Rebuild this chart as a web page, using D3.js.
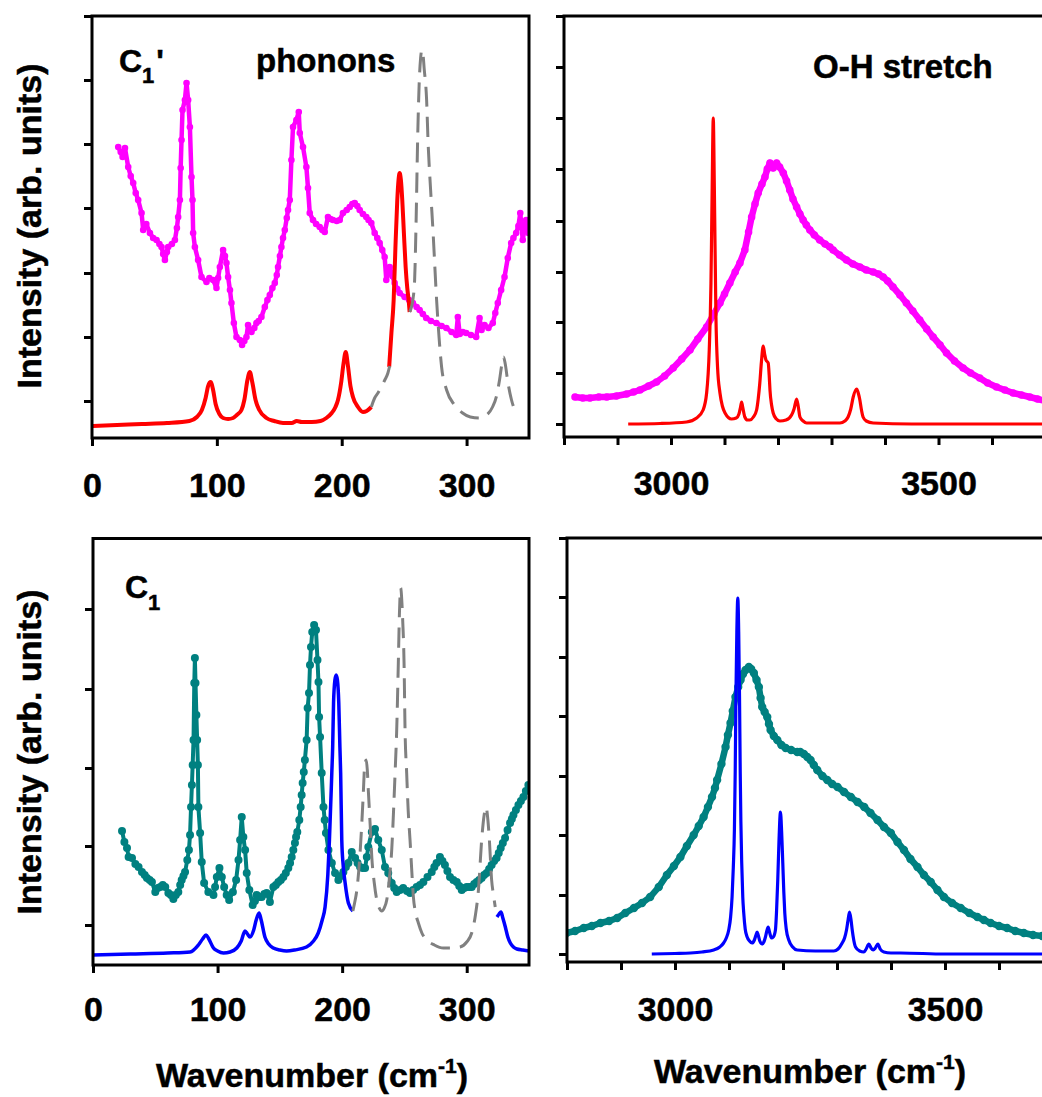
<!DOCTYPE html>
<html>
<head>
<meta charset="utf-8">
<script src="https://cdn.jsdelivr.net/npm/d3@7"></script>
<style>
  body { margin: 0; background: #fff; }
  text { font-family: "Liberation Sans", Arial, Helvetica, sans-serif; font-weight: bold; stroke: #000; stroke-width: 0.5px; }
</style>
</head>
<body>
<div id="chart"></div>
<script>
// ---- data: [wavenumber (cm-1), intensity (arb. units)] ----

// C1' phonons, measured (magenta)
var c1pPhononExp = [[21,291],[23,286],[24.5,281],[26.4,290],[29,271],[31,262],[33,255],[35,245],[37,238],[39.7,225],[41,208],[43.5,214],[46.4,205],[49,200],[51.7,198],[54,194],[55.7,191],[57,184],[58.4,178],[60,186],[61,191],[64,194],[66.4,198],[68,210],[69,221],[70.4,238],[71,270],[71.7,298],[72.5,328],[74.4,338],[75.7,355],[77,338],[78.4,311],[79.7,261],[80.5,238],[81,205],[82.4,191],[85,178],[87.7,161],[91.7,156],[94,160],[97,158],[99.7,150],[101,160],[102.4,171],[105,188],[106.5,182],[107.7,175],[109,161],[110.5,148],[111.7,135],[113.6,115],[115.7,101],[118.4,98],[120.2,93],[122,97],[123.7,101],[125,113],[126.5,108],[127.7,106],[130,110],[131.7,115],[133.5,117],[135.7,121],[138.4,131],[140.5,138],[142.4,143],[144.5,150],[146.4,155],[148,163],[149,171],[150.5,182],[151.7,191],[153,200],[154.4,208],[156,220],[157,228],[158.4,238],[159.7,278],[161,311],[163.7,318],[165.6,326],[166.4,305],[169,291],[171.7,271],[173,250],[174.4,225],[177,218],[179.5,214],[182.4,211],[184.5,208],[186.4,206],[189,221],[191,219],[193,218],[196,217],[198.4,218],[201,225],[204,228],[206.4,231],[208.5,234],[210.4,235],[212.5,232],[214.4,228],[217,224],[219.7,221],[221.5,218],[223.7,215],[226.4,205],[228.5,200],[230.4,195],[232.5,188],[234.4,181],[235.7,158],[237,165],[238.4,171],[240.5,162],[242.4,155],[244.5,149],[246.4,145],[250.4,141],[254,138],[257,135],[260,131],[262.4,128],[265,124],[267.7,120],[271.5,117],[275.8,115],[280,112],[283.8,110],[288,106],[291.7,103],[293,121],[294.5,104],[297,106],[299.7,105],[303.5,103],[307.7,101],[310.4,120],[312,108],[314.4,113],[317.5,110],[321,115],[323,125],[325,135],[327.7,148],[330.4,161],[333,180],[335.7,195],[337.5,200],[339.7,205],[341.5,212],[343,225],[345,198],[346.5,210],[347.7,218],[349.6,205]];

// C1' phonons, calculated (red) and the dashed grey parts
var c1pPhononCalcLow = [[0,12],[20,13],[40,14],[60,15],[78,17],[84,21],[88,28],[91,40],[93,52],[95,56],[97,48],[99,34],[102,24],[105,20],[109,19],[113,20],[116,23],[119.7,28],[122,38],[124.5,58],[126.4,66],[128.5,55],[131,38],[134,28],[139.7,20],[146,17],[153,15],[160,15],[164,17],[168,16],[176,16],[183,17],[187.7,20],[192,25],[195,31],[197,38],[199.5,55],[201.5,75],[203.2,86],[205,72],[207,52],[209,41],[213,31],[217,26],[220,27],[223.7,31]];
var c1pPhononCalcHigh = [[238,71],[239.8,105],[241.6,138],[243,190],[244.5,238],[245.5,258],[246.4,265],[247.4,258],[248.5,238],[249.8,205],[251.2,171],[252.5,150],[253.6,138],[254.4,126]];
var c1pPhononGapA = [[223.7,31],[226.4,40],[229,45],[231.7,51],[234.5,58],[237,65],[238.4,72]];
var c1pPhononGapB = [[254.4,126],[257.2,140],[258.4,158],[259.6,218],[260.8,298],[262,353],[263.2,380],[264.2,388],[265,385],[266,370],[268,338],[269.2,295],[271.2,248],[273.2,205],[276,138],[278,100],[280,71],[284,48],[290.4,33],[296.8,25],[303,21],[310.4,20],[316,23],[320.8,31],[324,42],[326.4,58],[328.3,74],[329.6,81],[331,74],[332.8,58],[336,38],[339.2,26]];

// C1' O-H stretch
var c1pStretchExp = [[2820.6,40],[2835,39],[2848.6,39],[2865,40],[2880,40],[2898,41],[2917,43],[2930,45],[2942,47],[2958,51],[2973,55],[2988,61],[3004,69],[3020,78],[3035.4,87],[3050,98],[3066.6,110],[3080,123],[3091.5,134],[3100,143],[3110,154],[3120,165],[3128.8,174],[3138,187],[3145,205],[3150.7,220],[3157,233],[3163,244],[3170,253],[3175.6,260],[3180,268],[3185,274],[3191,269],[3197.4,274],[3203,270],[3210,264],[3216,256],[3222,247],[3228,238],[3234.8,230],[3241,223],[3247,217],[3253,212],[3259.6,207],[3268,202],[3278,197],[3288,193],[3297,190],[3303,187],[3315,182],[3328,177],[3340,173],[3353,170],[3365,167],[3378,165],[3388,163],[3396.6,160],[3405,156],[3415,150],[3428,142],[3440,134],[3452,126],[3465,117],[3478,108],[3490,100],[3503,92],[3515,84],[3530,76],[3546,69],[3560,64],[3577,59],[3592,54],[3608.5,50],[3624,47],[3639.5,44],[3655,42],[3670.7,40],[3685,38],[3700,36]];
var c1pStretchCalc = [[2920,13],[2980,13.5],[3029,15],[3048,19],[3060,27],[3066.6,44],[3071.5,87],[3074.7,154],[3077,250],[3079,319],[3081,250],[3084,120],[3087,70],[3091.5,44],[3096,31],[3101,24],[3113,18],[3122,19],[3127,23],[3130,30],[3132,35],[3134,30],[3138,20],[3143,17],[3147.5,17],[3154,20],[3160,27],[3163,38],[3166,54],[3169,75],[3172.4,91],[3175,83],[3177.5,77],[3181.7,74],[3183.5,62],[3185,47],[3188,32],[3191,24],[3197,18],[3203.6,16],[3215,17],[3225.4,22],[3230,28],[3234.8,38],[3238,30],[3241,20],[3247,16],[3253.5,14],[3290,14],[3315.7,14],[3325,16],[3331,20],[3336,28],[3340.6,40],[3347,48],[3350,44],[3353,37],[3356,27],[3359,20],[3365,16],[3378,14],[3450,13],[3600,13],[3800,13]];

// C1 phonons
var c1PhononExp = [[23.3,134],[25.2,123],[27.3,117],[28.6,108],[31.3,107],[34,101],[36.6,98],[39.3,93],[41.5,90],[43.3,87],[45.5,85],[47.3,83],[50,73],[52,77],[54,78],[56,80],[58,78],[60.5,72],[62.5,70],[64.5,66],[66.5,70],[68.5,73],[70,80],[71.2,85],[72.6,89],[73.9,93],[75.7,105],[77,115],[77.9,130],[78.7,158],[79.4,180],[80,200],[80.7,225],[81.3,282],[81.8,307],[82.3,282],[83,250],[83.6,225],[84.2,200],[84.6,158],[86,132],[87.3,103],[89.2,82],[92.6,73],[96.7,70],[98,78],[99.4,88],[101.5,97],[103.4,88],[105.3,78],[107.3,70],[109.3,65],[112.3,73],[114.9,85],[116.8,105],[118.1,125],[119.4,148],[120.7,128],[122.1,115],[123.4,92],[125.5,75],[128.2,60],[130,64],[131.4,70],[133.5,68],[135.4,68],[137.5,71],[139.4,72],[142,63],[144.8,78],[146.8,80],[148.8,83],[150.8,85],[152.8,88],[154.8,92],[156.8,97],[158.2,102],[159.5,108],[160.8,115],[162.1,122],[163,128],[164,133],[165.6,145],[166.7,158],[167.5,170],[168.3,182],[169.2,193],[170.1,205],[171.5,225],[172.3,257],[173.4,272],[174.2,300],[175,318],[176,333],[177.5,340],[179,335],[180.2,305],[181,283],[181.5,248],[182.3,228],[183.6,192],[185,158],[186,145],[187,132],[189,115],[191.7,102],[194.3,92],[197,85],[199,89],[201,93],[203,98],[205,102],[207.7,113],[210.4,107],[212.4,102],[214.4,98],[216.4,97],[218.4,97],[219.8,108],[221,118],[223.8,133],[226.4,136],[229,125],[231.8,115],[234.4,98],[237,92],[239.8,82],[241.8,77],[243.8,73],[246.5,75],[249,77],[252,74],[254.5,72],[257,75],[259.8,78],[262.5,80],[265.2,83],[268.5,88],[271.9,93],[274,98],[275.8,102],[278.5,108],[280.5,104],[282.5,100],[284.5,94],[286.6,88],[289.3,85],[292,83],[294,79],[296,75],[298,77],[300,78],[302,78],[304,78],[306,81],[308,83],[310,85],[312,87],[314,90],[316,92],[318,96],[320,100],[322,104],[324,107],[325.7,112],[327.3,117],[329,122],[330.8,127],[332.8,135],[334.8,142],[336.2,146],[337.5,150],[339.5,155],[341.5,160],[343.5,164],[345.5,168],[347.5,174],[349.5,180]];
var c1PhononCalcLow = [[0,10],[30,11],[60,12],[78,13],[84.6,20],[88,26],[90.8,30],[93,26],[96.7,17],[100,14],[104.7,12],[110,13],[115.4,17],[119,24],[122,34],[124,31],[126,28],[129,35],[131,45],[133.3,52],[135,45],[138,28],[141,21],[144.8,17],[150,15],[155.4,14],[162,15],[171.4,18],[177,24],[180.8,32],[184,45],[186.3,58],[188.5,90],[189.8,125],[191.7,192],[192.4,218],[193.1,262],[194.2,285],[195.2,290],[196.2,285],[197.3,262],[198.2,218],[198.8,192],[199.7,125],[200.8,100],[202.4,82],[205,62],[208.6,54]];
var c1PhononCalcHigh = [[324.3,48],[326,51],[327.5,53],[329,47],[331,38],[333,28],[335,22],[337.5,18],[340.3,16],[345,15],[350,14]];
var c1PhononGap = [[208.6,54],[210,62],[211.8,75],[214,105],[215.8,142],[217,172],[218,198],[219.3,205],[220.2,195],[221,175],[222.5,140],[223.8,108],[225.8,82],[227.8,65],[229.8,57],[231.8,54],[233.8,57],[235.8,65],[237.8,85],[239.8,115],[241.3,155],[242.5,192],[243.8,235],[245.1,302],[246,352],[247,377],[248,362],[248.6,345],[249.7,302],[250.5,235],[251.8,192],[253,155],[254.5,125],[256,92],[257.2,68],[259,52],[261.2,42],[264,32],[268,25],[274,20],[281.3,17],[288,17],[294.7,18],[300,23],[304,32],[307,50],[309.4,75],[312,125],[314,150],[315.5,158],[317,145],[318.2,125],[320,85],[321.5,70],[322.9,58]];

// C1 O-H stretch
var c1StretchExp = [[2799,29],[2815,31],[2831,34],[2846,36],[2862,39],[2878,41],[2893,44],[2908,49],[2924,54],[2939,59],[2954,65],[2970,75],[2985,87],[2998,96],[3010,105],[3022,116],[3034.6,127],[3044,136],[3053,145],[3061,155],[3068.5,165],[3074,174],[3078,182],[3086,198],[3093.6,215],[3098,227],[3102.8,239],[3107,251],[3112,265],[3117,275],[3121.4,282],[3126,288],[3130.6,292],[3136.8,295],[3141,293],[3146,289],[3151,282],[3155.3,275],[3158.5,264],[3161.5,255],[3166,250],[3170.8,245],[3174,238],[3177,232],[3183,226],[3189.4,222],[3197,217],[3204.9,214],[3215,212],[3226.4,210],[3232,210],[3238.7,208],[3245,205],[3251,202],[3257,197],[3263.4,192],[3273,186],[3282,182],[3291,178],[3301,175],[3313,170],[3325.6,165],[3338,160],[3350.4,155],[3362,149],[3375,142],[3387,135],[3399.7,129],[3412,120],[3424,112],[3436,103],[3449,95],[3461,87],[3473.6,80],[3486,72],[3498,65],[3513,59],[3529,54],[3545,49],[3560,45],[3572,42],[3584.5,39],[3600,36],[3615,34],[3630,31],[3646,29],[3663,27],[3680,26],[3700,25]];
var c1StretchCalc = [[2957,8],[3000,8.5],[3028.5,9],[3050,10],[3071.7,12],[3083,15],[3090,19],[3095,24],[3099.5,32],[3103,45],[3105.7,65],[3108,95],[3110,132],[3111.5,190],[3112.8,265],[3114.5,330],[3116.3,364],[3118,330],[3119.5,265],[3120.8,190],[3122,140],[3123.5,100],[3125.5,65],[3127.3,49],[3130,33],[3133.6,25],[3138,21],[3142.8,19],[3147,22],[3150,27],[3152,30],[3154,27],[3157,21],[3161.4,18],[3164.5,20],[3167.5,25],[3170,31],[3172.5,35],[3175,30],[3178.6,24],[3182,25],[3186,32],[3188,50],[3190.3,82],[3192.5,120],[3195.3,150],[3197.5,130],[3199.6,99],[3201.5,70],[3203.3,49],[3206,33],[3210.7,22],[3218,15],[3226.3,12],[3260,11],[3294,11],[3302,13],[3309.6,19],[3314,24],[3317.6,32],[3320.5,42],[3323.2,50],[3326,42],[3328.2,32],[3331,22],[3334.3,15],[3342,11],[3349.7,10],[3354,13],[3359,18],[3363,14],[3367.1,12],[3371,14],[3375.7,18],[3380,13],[3386.7,10],[3400,9],[3417.7,9],[3500,8],[3800,8]];

// ticks
var phononTicks = [0, 100, 200, 300];
var stretchTicks = [2800, 2900, 3000, 3100, 3200, 3300, 3400, 3500, 3600, 3700];
var stretchLabels = [3000, 3500];
var yTicksTL = [37, 101, 165, 230, 294, 358, 422];
var yTicksTR = [13, 64, 115, 165, 216, 268, 319, 370, 421];
var yTicksBL = [40, 119, 197, 276, 356];
var yTicksBR = [8, 67, 127, 186, 246, 305, 365, 424];

var svg = d3.select("#chart")
  .append("svg")
  .attr("width", 1042)
  .attr("height", 1097);

function drawPanel(p) {
  var x = d3.scaleLinear().domain(p.xDomain).range([p.left, p.right]);
  var y = d3.scaleLinear().domain([0, p.yMax]).range([p.bottom, p.top]);

  svg.append("clipPath").attr("id", "clip-" + p.id)
    .append("rect")
    .attr("x", p.left).attr("y", p.top)
    .attr("width", p.right - p.left).attr("height", p.bottom - p.top);

  var plot = svg.append("g").attr("clip-path", "url(#clip-" + p.id + ")");

  p.series.forEach(function(s) {
    var line = d3.line()
      .x(d => x(d[0]))
      .y(d => y(d[1]))
      .curve(s.smooth ? d3.curveMonotoneX : d3.curveLinear);

    plot.append("path")
      .datum(s.data)
      .attr("d", line)
      .attr("fill", "none")
      .attr("stroke", s.color)
      .attr("stroke-width", s.width)
      .attr("stroke-linejoin", "round")
      .attr("stroke-dasharray", s.dash || null);

    if (s.marker) {
      plot.selectAll(null)
        .data(s.data)
        .enter()
        .append("circle")
        .attr("cx", d => x(d[0]))
        .attr("cy", d => y(d[1]))
        .attr("r", s.marker)
        .attr("fill", s.color);
    }
  });

  // frame
  svg.append("rect")
    .attr("x", p.left).attr("y", p.top)
    .attr("width", p.right - p.left).attr("height", p.bottom - p.top)
    .attr("fill", "none")
    .attr("stroke", "#000")
    .attr("stroke-width", 3);

  var xAxis = d3.axisBottom(x)
    .tickValues(p.xTicks)
    .tickSize(8)
    .tickSizeOuter(0)
    .tickPadding(p.pad)
    .tickFormat(d => p.xLabels.indexOf(d) >= 0 ? d : "");

  var gx = svg.append("g")
    .attr("transform", `translate(0, ${p.bottom})`)
    .call(xAxis);
  gx.select(".domain").remove();
  gx.selectAll("line").attr("stroke-width", 3);
  gx.selectAll("text").attr("font-size", 34);

  var gy = svg.append("g")
    .attr("transform", `translate(${p.left}, 0)`)
    .call(d3.axisLeft(y).tickValues(p.yTicks).tickSize(8).tickSizeOuter(0).tickFormat(""));
  gy.select(".domain").remove();
  gy.selectAll("line").attr("stroke-width", 3);
}

drawPanel({
  id: "tl", left: 92, right: 529, top: 16, bottom: 438,
  xDomain: [0, 350], yMax: 422, xTicks: phononTicks, xLabels: phononTicks, yTicks: yTicksTL, pad: 27,
  series: [
    { data: c1pPhononExp, color: "#ff00ff", width: 4.5, marker: 3.3 },
    { data: c1pPhononCalcLow, color: "#ff0000", width: 4, smooth: true },
    { data: c1pPhononCalcHigh, color: "#ff0000", width: 4, smooth: true },
    { data: c1pPhononGapA, color: "#808080", width: 3, smooth: true, dash: "18,10" },
    { data: c1pPhononGapB, color: "#808080", width: 3, smooth: true, dash: "20,10" }
  ]
});

drawPanel({
  id: "tr", left: 564, right: 1099, top: 16, bottom: 437,
  xDomain: [2800, 3800], yMax: 421, xTicks: stretchTicks, xLabels: stretchLabels, yTicks: yTicksTR, pad: 26,
  series: [
    { data: c1pStretchExp, color: "#ff00ff", width: 6.5, marker: 3.8 },
    { data: c1pStretchCalc, color: "#ff0000", width: 3.2, smooth: true }
  ]
});

drawPanel({
  id: "bl", left: 93, right: 529, top: 538.5, bottom: 965,
  xDomain: [0, 350], yMax: 426.5, xTicks: phononTicks, xLabels: phononTicks, yTicks: yTicksBL, pad: 24,
  series: [
    { data: c1PhononExp, color: "#008080", width: 4, marker: 4 },
    { data: c1PhononCalcLow, color: "#0000ff", width: 3.5, smooth: true },
    { data: c1PhononCalcHigh, color: "#0000ff", width: 3.5, smooth: true },
    { data: c1PhononGap, color: "#808080", width: 3, smooth: true, dash: "20,10" }
  ]
});

drawPanel({
  id: "br", left: 567, right: 1107, top: 538, bottom: 962,
  xDomain: [2800, 3800], yMax: 424, xTicks: stretchTicks, xLabels: stretchLabels, yTicks: yTicksBR, pad: 27,
  series: [
    { data: c1StretchExp, color: "#008080", width: 6.5, marker: 4.2 },
    { data: c1StretchCalc, color: "#0000ff", width: 3.2, smooth: true }
  ]
});

// panel labels
var lab1 = svg.append("text").attr("x", 119).attr("y", 72).attr("font-size", 32);
lab1.append("tspan").text("C");
lab1.append("tspan").attr("font-size", 22).attr("dy", 11).text("1");
lab1.append("tspan").attr("dy", -11).attr("dx", 2).text("'");

svg.append("text").attr("x", 256).attr("y", 72).attr("font-size", 33).text("phonons");
svg.append("text").attr("x", 813).attr("y", 78).attr("font-size", 33).text("O-H stretch");

var lab2 = svg.append("text").attr("x", 125).attr("y", 598).attr("font-size", 32);
lab2.append("tspan").text("C");
lab2.append("tspan").attr("font-size", 22).attr("dy", 12).text("1");

// axis titles
[226, 752].forEach(function(cy) {
  svg.append("text")
    .attr("transform", `translate(41, ${cy}) rotate(-90)`)
    .attr("text-anchor", "middle")
    .attr("font-size", 34)
    .text("Intensity (arb. units)");
});

[[312, 1087], [810, 1083]].forEach(function(pos) {
  var t = svg.append("text")
    .attr("x", pos[0]).attr("y", pos[1])
    .attr("text-anchor", "middle")
    .attr("font-size", 34);
  t.append("tspan").text("Wavenumber (cm");
  t.append("tspan").attr("font-size", 21).attr("dy", -14).text("-1");
  t.append("tspan").attr("dy", 14).text(")");
});
</script>
</body>
</html>
